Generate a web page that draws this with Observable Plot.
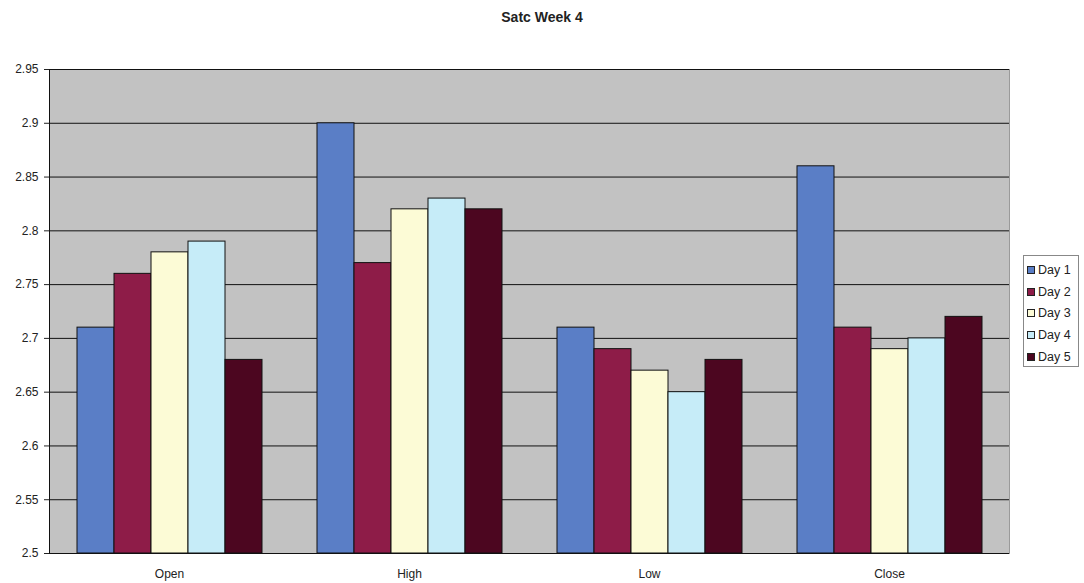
<!DOCTYPE html>
<html>
<head>
<meta charset="utf-8">
<script src="https://cdn.jsdelivr.net/npm/d3@7"></script>
<script src="https://cdn.jsdelivr.net/npm/@observablehq/plot@0.6"></script>
<style>
  body { margin: 0; background: #fff; font-family: "Liberation Sans", Arial, sans-serif; }
  #wrap { position: relative; width: 1084px; height: 583px; }
  #title { position: absolute; left: 0; width: 1084px; top: 9px; text-align: center; font-weight: bold; font-size: 14px; color: #222; }
  #chart { position: absolute; left: 0; top: 0; }
  #legend { position: absolute; left: 1023px; top: 255px; width: 56px; height: 112px; border: 1px solid #888; box-sizing: border-box; padding-top: 3px; }
  .item { display: flex; align-items: center; height: 21.7px; font-size: 12.5px; color: #222; }
  .sw { width: 6px; height: 6px; border: 1px solid #222; margin: 0 3px 0 3px; }
</style>
</head>
<body>
<div id="wrap">
  <div id="chart"></div>
  <div id="title">Satc Week 4</div>
  <div id="legend"></div>
</div>
<script>
const categories = ["Open", "High", "Low", "Close"];
const days = ["Day 1", "Day 2", "Day 3", "Day 4", "Day 5"];
const day1 = [2.71, 2.90, 2.71, 2.86];
const day2 = [2.76, 2.77, 2.69, 2.71];
const day3 = [2.78, 2.82, 2.67, 2.69];
const day4 = [2.79, 2.83, 2.65, 2.70];
const day5 = [2.68, 2.82, 2.68, 2.72];
const yTicks = [2.5, 2.55, 2.6, 2.65, 2.7, 2.75, 2.8, 2.85, 2.9, 2.95];
const colors = ["#5a7ec6", "#8e1c48", "#fcfbd6", "#c6ecf8", "#4c0620"];

const series = [day1, day2, day3, day4, day5];
const data = [];
categories.forEach((c, i) => days.forEach((d, j) => data.push({cat: c, day: d, value: series[j][i]})));

const chart = Plot.plot({
  width: 1084,
  height: 583,
  marginTop: 69,
  marginBottom: 30,
  marginLeft: 48,
  marginRight: 75,
  style: {fontFamily: "'Liberation Sans', Arial, sans-serif", fontSize: "12px", background: "transparent", color: "#222"},
  fx: {domain: categories, padding: 0, label: null, axis: "bottom", tickSize: 0, tickPadding: 16},
  x: {domain: days, axis: null, paddingInner: 0, paddingOuter: 0.69},
  y: {domain: [2.5, 2.95], ticks: yTicks, tickFormat: d => String(+d.toFixed(2)), label: null, tickSize: 5, tickPadding: 6},
  color: {domain: days, range: colors},
  marks: [
    Plot.frame({fill: "#c2c2c2", stroke: "#c2c2c2", strokeWidth: 1}),
    Plot.frame({anchor: "top", stroke: "#9a9a9a"}),
    Plot.frame({anchor: "right", stroke: "#9a9a9a", facetAnchor: "right"}),
    Plot.gridY(yTicks, {stroke: "#111", strokeOpacity: 1, strokeWidth: 1}),
    Plot.barY(data, {fx: "cat", x: "day", y1: 2.5, y2: "value", fill: "day", stroke: "#111", strokeWidth: 1}),
    Plot.ruleY([2.5], {stroke: "#111"}),
    Plot.frame({anchor: "left", stroke: "#111", facetAnchor: "left"})
  ]
});
document.getElementById("chart").appendChild(chart);

const legend = document.getElementById("legend");
days.forEach((d, i) => {
  const item = document.createElement("div");
  item.className = "item";
  const sw = document.createElement("span");
  sw.className = "sw";
  sw.style.background = colors[i];
  item.appendChild(sw);
  item.appendChild(document.createTextNode(d));
  legend.appendChild(item);
});
</script>
</body>
</html>
